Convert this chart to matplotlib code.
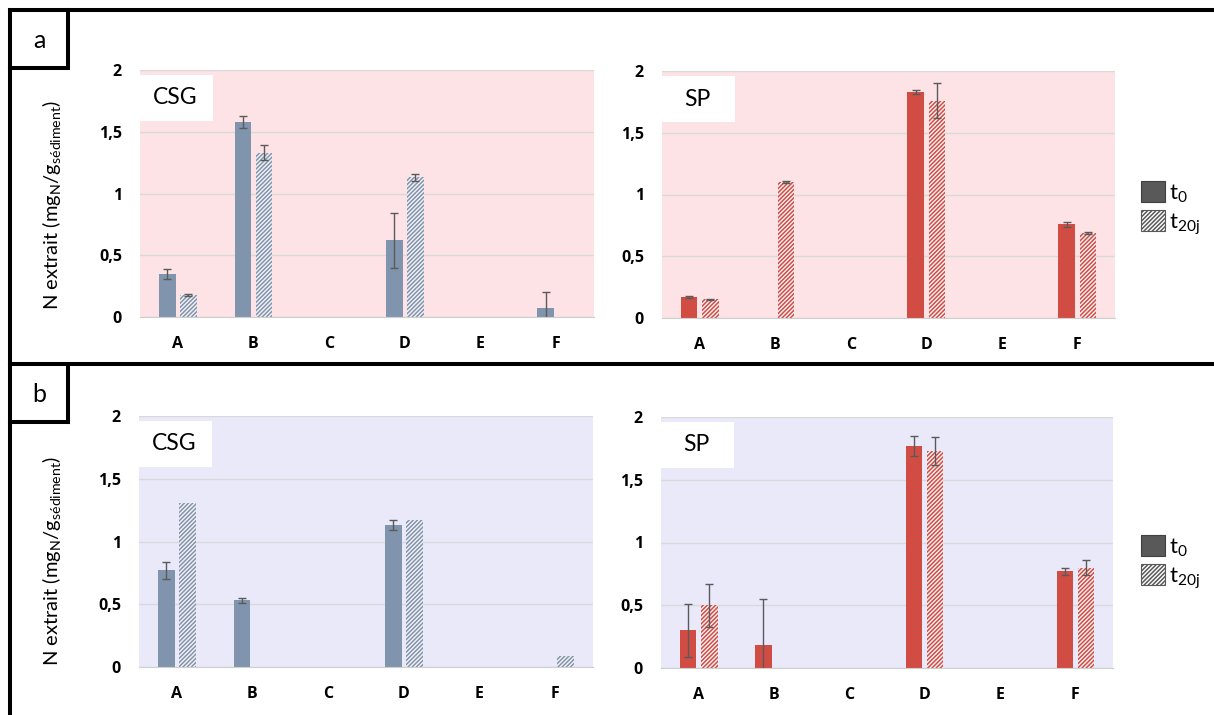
import numpy as np
import matplotlib
matplotlib.use("Agg")
import matplotlib.pyplot as plt
from matplotlib.patches import Patch, Rectangle
from matplotlib.lines import Line2D

plt.rcParams["font.family"] = ["Lato", "DejaVu Sans"]
plt.rcParams["hatch.linewidth"] = 1.1
plt.rcParams["xtick.major.pad"] = 14
plt.rcParams["ytick.major.pad"] = 13
plt.rcParams["xtick.major.size"] = 0
plt.rcParams["ytick.major.size"] = 0

nan = np.nan

# categories
cats = ["A", "B", "C", "D", "E", "F"]

# panel a (pink)
a_csg_t0 = [0.35, 1.58, nan, 0.62, nan, 0.07]
a_csg_t0_err = [0.04, 0.05, nan, 0.22, nan, 0.13]
a_csg_t20 = [0.18, 1.33, nan, 1.13, nan, nan]
a_csg_t20_err = [0.01, 0.06, nan, 0.03, nan, nan]
a_sp_t0 = [0.17, nan, nan, 1.83, nan, 0.76]
a_sp_t0_err = [0.005, nan, nan, 0.02, nan, 0.02]
a_sp_t20 = [0.15, 1.10, nan, 1.76, nan, 0.69]
a_sp_t20_err = [0.005, 0.01, nan, 0.14, nan, 0.01]

# panel b (lavender)
b_csg_t0 = [0.77, 0.53, nan, 1.13, nan, nan]
b_csg_t0_err = [0.07, 0.02, nan, 0.04, nan, nan]
b_csg_t20 = [1.31, nan, nan, 1.17, nan, 0.09]
b_csg_t20_err = [nan, nan, nan, nan, nan, nan]
b_sp_t0 = [0.30, 0.18, nan, 1.77, nan, 0.77]
b_sp_t0_err = [0.21, 0.37, nan, 0.08, nan, 0.03]
b_sp_t20 = [0.50, nan, nan, 1.73, nan, 0.80]
b_sp_t20_err = [0.17, nan, nan, 0.11, nan, 0.06]

yticks = [0, 0.5, 1, 1.5, 2]
ytick_labels = ["0", "0,5", "1", "1,5", "2"]

W, H = 1214, 715
fig = plt.figure(figsize=(W / 100, H / 100), dpi=100)

CSG_COL = "#8094ae"
SP_COL = "#d14d44"
PINK = "#fde3e5"
LAV = "#e9e9fa"
HATCH = "////////"
TICKFONT = dict(family=["Open Sans", "DejaVu Sans"], weight="bold", size=11.5)


def px_axes(x0, y0, x1, y1):
    return fig.add_axes([x0 / W, 1 - y1 / H, (x1 - x0) / W, (y1 - y0) / H])


def panel(ax, t0, t0e, t20, t20e, col, bg, name, wpx, hpx):
    x = np.arange(len(cats))
    bw = 0.22
    ax.set_facecolor(bg)
    ax.bar(x - 0.14, t0, bw, color=col, zorder=2)
    ax.bar(x + 0.14, t20, bw, facecolor="#f7f3f5", edgecolor=col,
           hatch=HATCH, linewidth=0, zorder=2)
    ax.errorbar(x - 0.14, t0, yerr=t0e, fmt="none", ecolor="#5a5a5a",
                elinewidth=1, capsize=3, capthick=1, zorder=3)
    ax.errorbar(x + 0.14, t20, yerr=t20e, fmt="none", ecolor="#5a5a5a",
                elinewidth=1, capsize=3, capthick=1, zorder=3)
    ax.set_xlim(-0.5, len(cats) - 0.5)
    ax.set_ylim(0, 2)
    ax.set_yticks(yticks)
    ax.set_yticklabels(ytick_labels, fontdict=TICKFONT)
    ax.set_xticks(x)
    ax.set_xticklabels(cats, fontdict=TICKFONT)
    ax.grid(axis="y", color="#d9d9d9", lw=1, zorder=0)
    ax.set_axisbelow(True)
    for s in ["top", "right", "left"]:
        ax.spines[s].set_visible(False)
    ax.spines["bottom"].set_color("#cfcfcf")
    # white label box in the upper-left corner
    bx, by = 75 / wpx, 46 / hpx
    top = 1 - 5 / hpx
    ax.add_patch(Rectangle((-2 / wpx, top - by), bx, by, transform=ax.transAxes,
                           facecolor="white", edgecolor="none", zorder=4,
                           clip_on=False))
    ax.text(-2 / wpx + bx / 2, top - by / 2, name, transform=ax.transAxes,
            ha="center", va="center", fontsize=16.5, zorder=5)


ax1 = px_axes(140, 70, 594, 317)
panel(ax1, a_csg_t0, a_csg_t0_err, a_csg_t20, a_csg_t20_err, CSG_COL, PINK, "CSG", 454, 247)
ax2 = px_axes(662, 71, 1115, 318)
panel(ax2, a_sp_t0, a_sp_t0_err, a_sp_t20, a_sp_t20_err, SP_COL, PINK, "SP", 453, 247)
ax3 = px_axes(139, 416, 593, 667)
panel(ax3, b_csg_t0, b_csg_t0_err, b_csg_t20, b_csg_t20_err, CSG_COL, LAV, "CSG", 454, 251)
ax4 = px_axes(661, 417, 1113, 668)
panel(ax4, b_sp_t0, b_sp_t0_err, b_sp_t20, b_sp_t20_err, SP_COL, LAV, "SP", 452, 251)

ylab = "N extrait (mg$_\\mathregular{N}$/g$_\\mathregular{sédiment}$)"
fig.text(52 / W, 1 - 205 / H, ylab, rotation=90, ha="center", va="center", fontsize=14.5)
fig.text(52 / W, 1 - 561 / H, ylab, rotation=90, ha="center", va="center", fontsize=14.5)

# legends
handles = [Patch(facecolor="#595959", edgecolor="#404040", lw=0.8),
           Patch(facecolor="white", edgecolor="#595959", hatch=HATCH, lw=0.8)]
labels = ["$\\mathregular{t_0}$", "$\\mathregular{t_{20j}}$"]
for ytop in (181, 535):
    fig.legend(handles, labels, loc="upper left",
               bbox_to_anchor=(1141 / W, 1 - ytop / H), frameon=False,
               fontsize=16, handlelength=1.1, handleheight=1.1,
               handletextpad=0.15, labelspacing=0.25, borderpad=0,
               borderaxespad=0)

# frame lines
lw = 2.9


def fline(xs, ys):
    fig.add_artist(Line2D([x / W for x in xs], [1 - y / H for y in ys],
                          color="black", lw=lw, solid_capstyle="projecting"))


fline([10, W], [10, 10])
fline([10, 10], [10, H])
fline([10, W], [364, 364])
fline([68, 68], [10, 68])
fline([10, 68], [68, 68])
fline([68, 68], [364, 422])
fline([10, 68], [422, 422])
fig.text(39 / W, 1 - 40 / H, "a", ha="center", va="center", fontsize=18)
fig.text(39 / W, 1 - 394 / H, "b", ha="center", va="center", fontsize=18)

fig.savefig("out.png", dpi=100)
